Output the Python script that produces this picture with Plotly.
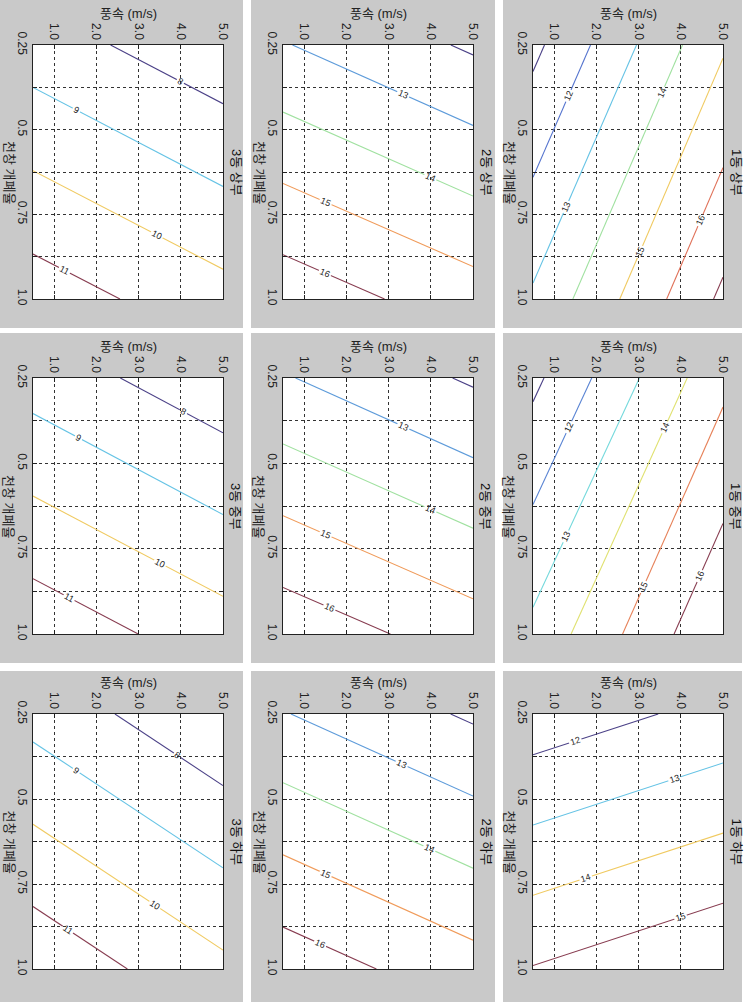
import math
import plotly.graph_objects as go

W, H = 745, 1002

# ---------------- data ----------------
wind_speed = [0.5, 5.0]        # 풍속 (m/s) at the left / right plot edges
opening_ratio = [0.25, 1.0]    # 천창 개폐율 at the top / bottom plot edges

# temperature at the plot corners: rows = opening_ratio, cols = wind_speed
temp_1_upper = [[10.75, 14.88], [13.15, 17.20]]
temp_1_middle = [[10.77, 14.75], [13.26, 16.95]]
temp_1_lower = [[11.42, 12.30], [15.05, 15.94]]
temp_2_upper = [[13.06, 11.86], [16.62, 15.46]]
temp_2_middle = [[13.08, 11.87], [16.65, 15.50]]
temp_2_lower = [[13.05, 11.86], [16.58, 15.40]]
temp_3_upper = [[8.49, 7.29], [11.54, 10.36]]
temp_3_middle = [[8.57, 7.33], [11.67, 10.46]]
temp_3_lower = [[8.66, 7.13], [11.76, 10.23]]

wind_ticks = [1, 2, 3, 4, 5]
wind_tick_labels = ["1.0", "2.0", "3.0", "4.0", "5.0"]
opening_ticks = [0.25, 0.375, 0.5, 0.625, 0.75, 0.875, 1.0]
opening_tick_labels = ["0.25", "", "0.5", "", "0.75", "", "1.0"]

panel_titles = ["1동 상부", "1동 중부", "1동 하부",
                "2동 상부", "2동 중부", "2동 하부",
                "3동 상부", "3동 중부", "3동 하부"]
panel_data = [temp_1_upper, temp_1_middle, temp_1_lower,
              temp_2_upper, temp_2_middle, temp_2_lower,
              temp_3_upper, temp_3_middle, temp_3_lower]
# grid position of each panel: (column from left, row from top)
panel_cells = [(2, 0), (2, 1), (2, 2),
               (1, 0), (1, 1), (1, 2),
               (0, 0), (0, 1), (0, 2)]

# ---------------- layout geometry (pixels) ----------------
col_gray = [(0, 243), (251, 495), (503, 742)]
col_plot = [(33, 223), (283, 473), (533, 723)]
row_gray = [(0, 328), (333, 663), (671, 1002)]
row_plot = [(45, 299), (378, 634), (714, 969)]

GRAY = "#c9c9c9"
FONT = "Liberation Sans, Noto Sans CJK KR, sans-serif"
jet_muted = [
    [0.0, "rgb(75,65,135)"],
    [0.125, "rgb(80,95,200)"],
    [0.375, "rgb(105,215,235)"],
    [0.5, "rgb(160,225,160)"],
    [0.625, "rgb(240,225,100)"],
    [0.75, "rgb(240,155,90)"],
    [0.875, "rgb(215,90,85)"],
    [1.0, "rgb(135,60,80)"],
]


def px_x(p):
    return p / W


def px_y(p):
    return 1 - p / H


fig = go.Figure()
shapes = []
annotations = []

for (c, r) in panel_cells:
    gx0, gx1 = col_gray[c]
    gy0, gy1 = row_gray[r]
    shapes.append(dict(type="rect", xref="paper", yref="paper", layer="below",
                       x0=px_x(gx0), x1=px_x(gx1), y0=px_y(gy1), y1=px_y(gy0),
                       fillcolor=GRAY, line=dict(width=0)))
for (c, r) in panel_cells:
    px0, px1 = col_plot[c]
    py0, py1 = row_plot[r]
    shapes.append(dict(type="rect", xref="paper", yref="paper", layer="below",
                       x0=px_x(px0), x1=px_x(px1), y0=px_y(py1), y1=px_y(py0),
                       fillcolor="white", line=dict(width=0)))

for k, (title, z, (c, r)) in enumerate(zip(panel_titles, panel_data, panel_cells), start=1):
    px0, px1 = col_plot[c]
    py0, py1 = row_plot[r]
    zs = [v for row in z for v in row]
    start = math.ceil(min(zs))
    end = math.floor(max(zs))
    xa = "x" if k == 1 else f"x{k}"
    ya = "y" if k == 1 else f"y{k}"
    fig.add_trace(go.Contour(
        x=wind_speed, y=opening_ratio, z=z,
        xaxis=xa, yaxis=ya,
        autocontour=False,
        contours=dict(start=start, end=end, size=1, coloring="lines",
                      showlabels=True,
                      labelfont=dict(family=FONT, size=9, color="#222")),
        colorscale=jet_muted, showscale=False,
        line=dict(width=1.1, smoothing=0),
        hoverinfo="skip",
    ))
    axkey_x = "xaxis" if k == 1 else f"xaxis{k}"
    axkey_y = "yaxis" if k == 1 else f"yaxis{k}"
    fig.update_layout(**{
        axkey_x: dict(domain=[px_x(px0), px_x(px1)], anchor=ya, side="top",
                      range=[wind_speed[0], wind_speed[1]], automargin=False,
                      tickmode="array", tickvals=wind_ticks, ticktext=wind_tick_labels,
                      tickangle=90, tickfont=dict(family=FONT, size=12, color="#222"),
                      showgrid=True, gridcolor="#333", griddash="dot", gridwidth=1,
                      showline=True, linecolor="#222", linewidth=1, mirror="ticks",
                      ticks="inside", ticklen=4, tickcolor="#222",
                      zeroline=False, fixedrange=True),
        axkey_y: dict(domain=[px_y(py1), px_y(py0)], anchor=xa,
                      range=[opening_ratio[1], opening_ratio[0]], automargin=False,
                      tickmode="array", tickvals=opening_ticks, ticktext=opening_tick_labels,
                      tickangle=90, tickfont=dict(family=FONT, size=12, color="#222"),
                      showgrid=True, gridcolor="#333", griddash="dot", gridwidth=1,
                      showline=True, linecolor="#222", linewidth=1, mirror="ticks",
                      ticks="inside", ticklen=4, tickcolor="#222",
                      zeroline=False, fixedrange=True),
    })
    cx = (px0 + px1) / 2
    cy = (py0 + py1) / 2
    annotations.append(dict(text="풍속 (m/s)", xref="paper", yref="paper",
                            x=px_x(cx), y=px_y(py0 - 32), showarrow=False,
                            xanchor="center", yanchor="middle",
                            font=dict(family=FONT, size=13, color="#222")))
    annotations.append(dict(text="천창 개폐율", xref="paper", yref="paper",
                            x=px_x(px0 - 24), y=px_y(cy), showarrow=False, textangle=90,
                            xanchor="center", yanchor="middle",
                            font=dict(family=FONT, size=13, color="#222")))
    annotations.append(dict(text=title, xref="paper", yref="paper",
                            x=px_x(px1 + 13), y=px_y(cy), showarrow=False, textangle=90,
                            xanchor="center", yanchor="middle",
                            font=dict(family=FONT, size=13, color="#111")))

fig.update_layout(width=W, height=H, margin=dict(l=0, r=0, t=0, b=0),
                  paper_bgcolor="white", plot_bgcolor="white",
                  shapes=shapes, annotations=annotations, showlegend=False)

fig.write_html("out.html")
